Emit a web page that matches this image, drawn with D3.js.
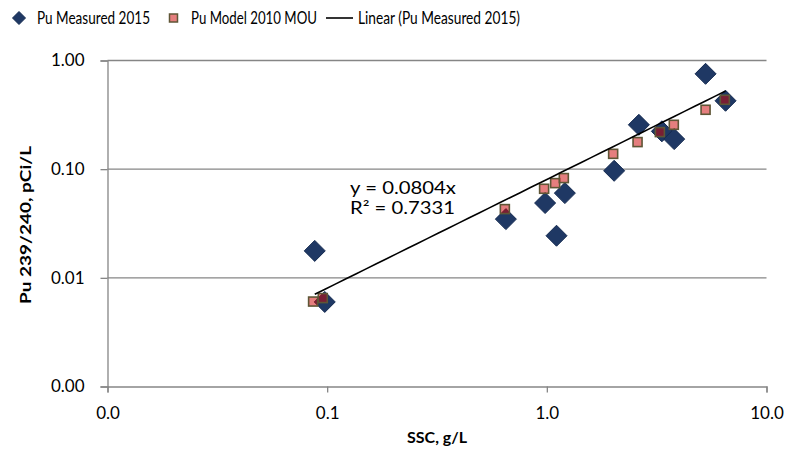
<!DOCTYPE html>
<html>
<head>
<meta charset="utf-8">
<script src="https://cdn.jsdelivr.net/npm/d3@7"></script>
<style>
body{margin:0;background:#fff}
text{font-family:Lato,"Open Sans",sans-serif}
</style>
</head>
<body>
<svg width="800" height="449"></svg>
<script>
// Pu Measured 2015
const measuredSSC=[0.0878,0.0975,0.651,0.982,1.107,1.208,2.025,2.624,3.34,3.80,5.28,6.51]
const measuredPu=[0.0177,0.0060,0.0347,0.0488,0.0244,0.0602,0.0966,0.256,0.223,0.189,0.754,0.426]
// Pu Model 2010 MOU
const modelSSC=[0.0863,0.0955,0.644,0.972,1.091,1.195,2.004,2.588,3.27,3.785,5.28,6.46]
const modelPu=[0.00605,0.00651,0.0429,0.066,0.0744,0.0828,0.1384,0.1775,0.2194,0.256,0.352,0.435]
const slope=0.0804
const xTicks=[0.01,0.1,1,10]
const yTicks=[0.001,0.01,0.1,1]

const svg=d3.select("svg")
const x=d3.scaleLog().domain([0.01,10]).range([107.5,766.5])
const y=d3.scaleLog().domain([0.001,1]).range([386.5,60.5])
const grey="#868686"

// gridlines
svg.append("g").selectAll("line").data(yTicks.slice(1)).join("line")
 .attr("x1",x(0.01)).attr("x2",x(10))
 .attr("y1",d=>y(d)).attr("y2",d=>y(d))
 .attr("stroke",grey).attr("stroke-width",1.3)

const xa=svg.append("g").attr("transform",`translate(0,${y(0.001)})`)
 .call(d3.axisBottom(x).tickValues(xTicks).tickFormat(d3.format(".1f")).tickSizeOuter(0).tickSize(6).tickPadding(14))
const ya=svg.append("g").attr("transform",`translate(${x(0.01)},0)`)
 .call(d3.axisLeft(y).tickValues(yTicks).tickFormat(d3.format(".2f")).tickSizeOuter(0).tickSize(7).tickPadding(16))
for(const a of [xa,ya]){
 a.select(".domain").attr("stroke",grey).attr("stroke-width",1.3)
 a.selectAll(".tick line").attr("stroke",grey).attr("stroke-width",1.3)
 a.selectAll(".tick text").attr("fill","#000").style("font-size","17px").style("font-family","Lato,sans-serif")
}

const diamond=r=>`M0,${-r}L${r},0L0,${r}L${-r},0Z`
const meas=measuredSSC.map((v,i)=>({x:v,y:measuredPu[i]}))
const mod=modelSSC.map((v,i)=>({x:v,y:modelPu[i]}))

svg.append("g").selectAll("path").data(meas).join("path")
 .attr("d",diamond(10.5))
 .attr("transform",d=>`translate(${x(d.x)},${y(d.y)})`)
 .attr("fill","#1f3864").attr("stroke","#142a50").attr("stroke-width",1)

svg.append("g").selectAll("rect").data(mod).join("rect")
 .attr("x",d=>x(d.x)-4.5).attr("y",d=>y(d.y)-4.5)
 .attr("width",9).attr("height",9)
 .attr("fill","rgba(205,8,8,0.52)").attr("stroke","#5f5636").attr("stroke-width",1.6)

// linear trendline y = 0.0804x
const xMin=d3.min(measuredSSC),xMax=d3.max(measuredSSC)
svg.append("path")
 .datum(d3.range(0,41).map(i=>xMin*Math.pow(xMax/xMin,i/40)))
 .attr("d",d3.line().x(d=>x(d)).y(d=>y(slope*d)))
 .attr("fill","none").attr("stroke","#000").attr("stroke-width",1.6)

svg.append("text").attr("x",350).attr("y",194).style("font-size","17px")
 .attr("textLength",106).attr("lengthAdjust","spacingAndGlyphs").text("y = 0.0804x")
svg.append("text").attr("x",350).attr("y",214).style("font-size","17px")
 .attr("textLength",105).attr("lengthAdjust","spacingAndGlyphs").text("R² = 0.7331")

// axis titles
svg.append("text").attr("transform","translate(31,225) rotate(-90)").attr("text-anchor","middle")
 .style("font-size","16px").style("font-weight","bold")
 .attr("textLength",158).attr("lengthAdjust","spacingAndGlyphs").text("Pu 239/240, pCi/L")
svg.append("text").attr("x",437).attr("y",443).attr("text-anchor","middle")
 .style("font-size","16px").style("font-weight","bold").text("SSC, g/L")

// legend
const lg=svg.append("g")
lg.append("path").attr("d",diamond(6.5)).attr("transform","translate(19,18)").attr("fill","#1f3864").attr("stroke","#142a50")
lg.append("text").attr("x",37).attr("y",24).style("font-size","16.5px")
 .attr("textLength",113).attr("lengthAdjust","spacingAndGlyphs").text("Pu Measured 2015")
lg.append("rect").attr("x",169.5).attr("y",14).attr("width",8).attr("height",8)
 .attr("fill","rgba(205,8,8,0.52)").attr("stroke","#5f5636").attr("stroke-width",1.5)
lg.append("text").attr("x",191).attr("y",24).style("font-size","16.5px")
 .attr("textLength",126).attr("lengthAdjust","spacingAndGlyphs").text("Pu Model 2010 MOU")
lg.append("line").attr("x1",326).attr("x2",353).attr("y1",18).attr("y2",18).attr("stroke","#000").attr("stroke-width",1.6)
lg.append("text").attr("x",358).attr("y",24).style("font-size","16.5px")
 .attr("textLength",162).attr("lengthAdjust","spacingAndGlyphs").text("Linear (Pu Measured 2015)")
</script>
</body>
</html>
